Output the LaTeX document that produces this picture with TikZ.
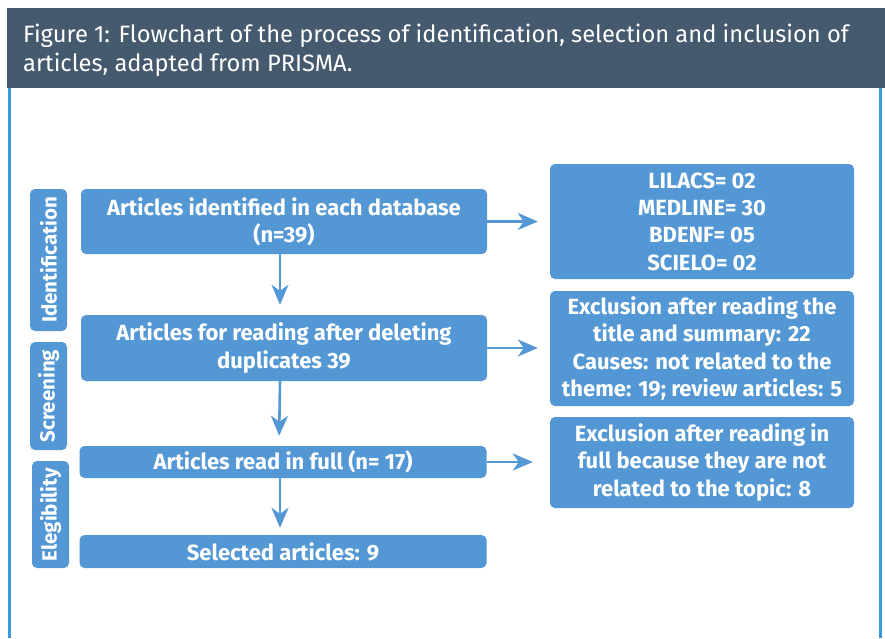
\documentclass[tikz,border=0pt]{standalone}
\usepackage{fontspec}
\setmainfont{Fira Sans}
\newfontfamily\headfont{Fira Sans}
\usetikzlibrary{arrows.meta}
\definecolor{boxblue}{RGB}{83,152,212}
\definecolor{headdark}{RGB}{70,90,111}
\definecolor{framblue}{RGB}{58,155,219}
\tikzset{
  box/.style={fill=boxblue, draw=none, rounded corners=5pt, text=white, align=center,
    inner sep=0pt, font=\bfseries\fontsize{22}{27.3}\selectfont},
  phase/.style={box, rotate=90, minimum height=37pt, font=\bfseries\fontsize{20.5}{24}\selectfont},
  arr/.style={draw=boxblue, line width=2.6pt, -{Stealth[length=20pt,width=17pt,inset=6pt]}},
  frameline/.style={draw=framblue, line width=3pt},
  headtext/.style={text=white, anchor=base west, inner sep=0pt, font=\headfont\fontsize{23.7}{29}\selectfont}
}
\begin{document}
\begin{tikzpicture}[x=1pt,y=-1pt]
\useasboundingbox (0,0) rectangle (885,638);
\fill[white] (0,0) rectangle (885,638);
% header
\fill[headdark] (7,8) rectangle (885,88);
\node[headtext] (h1) at (23,42) {Figure 1: Flowchart of the process of identification, selection and inclusion of};
\node[headtext] (h2) at (23,71) {articles, adapted from PRISMA.};
% frame
\coordinate (fl1) at (9,88); \coordinate (fl2) at (9,638);
\coordinate (fr1) at (880,88); \coordinate (fr2) at (880,638);
\draw[frameline] (fl1) -- (fl2);
\draw[frameline] (fr1) -- (fr2);
% phase labels
\node[phase, minimum width=142pt] (L1) at (48.5,260) {Identification};
\node[phase, minimum width=108pt] (L2) at (48.5,396) {Screening};
\node[phase, minimum width=107pt] (L3) at (50.5,514.5) {Elegibility};
% main boxes
\node[box, minimum width=406pt, minimum height=65pt] (A) at (284,221.5) {Articles identified in each database\\(n=39)};
\node[box, minimum width=406pt, minimum height=66pt] (B) at (284,348) {Articles for reading after deleting\\duplicates 39};
\node[box, minimum width=407pt, minimum height=32pt] (C) at (283,462) {Articles read in full (n= 17)};
\node[box, minimum width=407pt, minimum height=33pt] (D) at (283,551.5) {Selected articles: 9};
% right boxes
\node[box, minimum width=304pt, minimum height=115pt] (R1) at (702,221.5) {LILACS= 02\\MEDLINE= 30\\BDENF= 05\\SCIELO= 02};
\node[box, minimum width=304pt, minimum height=115pt] (R2) at (702,348.5) {Exclusion after reading the\\title and summary: 22\\Causes: not related to the\\theme: 19; review articles: 5};
\node[box, minimum width=304pt, minimum height=91pt] (R3) at (702,462.5) {Exclusion after reading in\\full because they are not\\related to the topic: 8};
% arrows
\draw[arr, shorten >=10pt] ([xshift=-4pt]A.south) -- ([xshift=-4pt]B.north);
\draw[arr, shorten >=10pt] ([xshift=-4pt]B.south) -- ([xshift=-4pt]C.north);
\draw[arr, shorten >=7pt] ([xshift=-3pt]C.south) -- ([xshift=-3pt]D.north);
\draw[arr, shorten >=12pt] (A.east) -- (A.east -| R1.west);
\draw[arr, shorten >=12pt] (B.east) -- (B.east -| R2.west);
\draw[arr, shorten >=17pt] (C.east) -- (C.east -| R3.west);
\end{tikzpicture}
\end{document}
